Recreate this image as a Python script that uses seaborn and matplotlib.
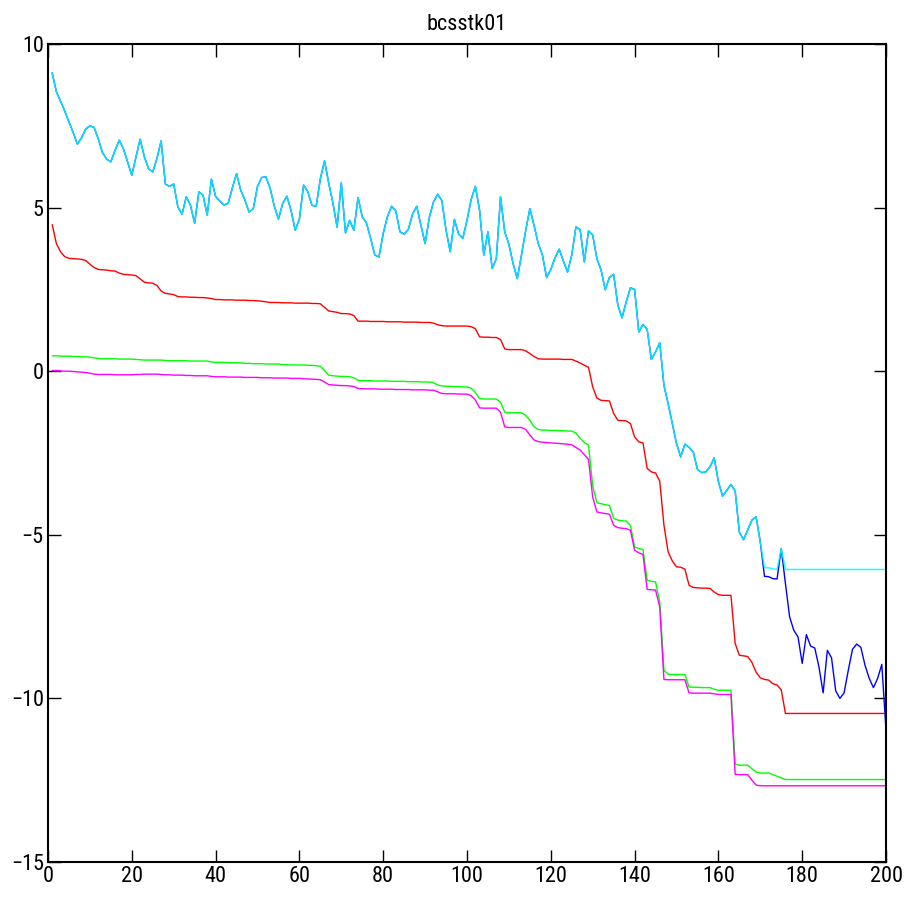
import matplotlib
matplotlib.use("Agg")
import matplotlib.pyplot as plt
from matplotlib import font_manager
from matplotlib.font_manager import FontProperties
import seaborn as sns
import pandas as pd

# ---------------- data ----------------
title = "bcsstk01"
x_values = list(range(1, 201))

# cyan and blue coincide for x = 1..170
shared_head = [
    9.12, 8.54, 8.25, 7.95, 7.62, 7.30, 6.94, 7.13, 7.40, 7.50,
    7.45, 7.10, 6.68, 6.48, 6.40, 6.75, 7.06, 6.80, 6.40, 5.99,
    6.55, 7.09, 6.55, 6.19, 6.09, 6.50, 7.04, 5.72, 5.65, 5.72,
    5.02, 4.80, 5.33, 5.07, 4.52, 5.48, 5.38, 4.77, 5.87, 5.34,
    5.20, 5.08, 5.13, 5.60, 6.04, 5.53, 5.23, 4.86, 4.97, 5.65,
    5.92, 5.94, 5.60, 5.05, 4.65, 5.12, 5.35, 4.92, 4.31, 4.65,
    5.69, 5.49, 5.07, 5.04, 5.88, 6.43, 5.75, 5.14, 4.40, 5.76,
    4.23, 4.61, 4.31, 5.31, 4.72, 4.53, 4.06, 3.55, 3.49, 4.21,
    4.72, 5.04, 4.90, 4.26, 4.19, 4.33, 4.80, 5.04, 4.46, 3.90,
    4.69, 5.17, 5.41, 5.21, 4.31, 3.65, 4.64, 4.19, 4.06, 4.61,
    5.25, 5.65, 4.92, 3.55, 4.26, 3.14, 3.44, 5.33, 4.26, 3.88,
    3.29, 2.83, 3.55, 4.29, 4.97, 4.46, 3.90, 3.55, 2.86, 3.11,
    3.46, 3.73, 3.37, 3.03, 3.55, 4.41, 4.33, 3.34, 4.29, 4.16,
    3.44, 3.09, 2.49, 2.87, 2.96, 2.02, 1.63, 2.12, 2.55, 2.50,
    1.20, 1.43, 1.28, 0.36, 0.59, 0.87, -0.43, -0.99, -1.60, -2.21,
    -2.62, -2.23, -2.33, -2.47, -3.00, -3.10, -3.08, -2.92, -2.65, -3.38,
    -3.82, -3.64, -3.46, -3.66, -4.92, -5.15, -4.85, -4.55, -4.45, -5.22,
]
cyan_tail = [
    -6.00, -6.01, -6.04, -6.06, -5.42, -6.06, -6.06, -6.06, -6.06, -6.06,
    -6.06, -6.06, -6.06, -6.06, -6.06, -6.06, -6.06, -6.06, -6.06, -6.06,
    -6.06, -6.06, -6.06, -6.06, -6.06, -6.06, -6.06, -6.06, -6.06, -6.06,
]
blue_tail = [
    -6.27, -6.28, -6.34, -6.35, -5.42, -6.49, -7.51, -7.92, -8.12, -8.93,
    -8.05, -8.40, -8.46, -9.04, -9.83, -8.53, -8.76, -9.77, -10.00, -9.83,
    -9.14, -8.50, -8.34, -8.44, -8.99, -9.39, -9.67, -9.39, -8.96, -10.97,
]
red_values = [
    4.48, 3.90, 3.65, 3.50, 3.45, 3.44, 3.43, 3.42, 3.38, 3.27,
    3.17, 3.11, 3.10, 3.09, 3.07, 3.06, 3.00, 2.96, 2.95, 2.94,
    2.92, 2.82, 2.72, 2.70, 2.69, 2.62, 2.45, 2.38, 2.36, 2.34,
    2.28, 2.27, 2.27, 2.26, 2.26, 2.25, 2.25, 2.24, 2.22, 2.19,
    2.19, 2.18, 2.18, 2.18, 2.17, 2.17, 2.17, 2.16, 2.16, 2.15,
    2.14, 2.12, 2.10, 2.10, 2.10, 2.09, 2.09, 2.09, 2.08, 2.08,
    2.08, 2.08, 2.07, 2.07, 2.06, 1.95, 1.84, 1.82, 1.80, 1.76,
    1.76, 1.75, 1.70, 1.53, 1.53, 1.53, 1.52, 1.52, 1.52, 1.52,
    1.51, 1.51, 1.51, 1.51, 1.50, 1.50, 1.50, 1.50, 1.49, 1.49,
    1.49, 1.47, 1.42, 1.39, 1.38, 1.38, 1.38, 1.38, 1.38, 1.38,
    1.36, 1.30, 1.05, 1.04, 1.04, 1.03, 1.03, 0.97, 0.68, 0.66,
    0.66, 0.66, 0.66, 0.62, 0.54, 0.45, 0.38, 0.37, 0.37, 0.37,
    0.37, 0.37, 0.36, 0.36, 0.36, 0.31, 0.25, 0.18, 0.12, -0.48,
    -0.82, -0.89, -0.90, -0.91, -1.29, -1.50, -1.51, -1.52, -1.60, -2.01,
    -2.16, -2.19, -2.97, -3.08, -3.11, -3.36, -4.70, -5.52, -5.80, -5.98,
    -5.99, -6.05, -6.54, -6.61, -6.62, -6.63, -6.63, -6.64, -6.75, -6.83,
    -6.85, -6.85, -6.85, -8.32, -8.68, -8.70, -8.72, -8.90, -9.20, -9.37,
    -9.42, -9.44, -9.55, -9.59, -9.74, -10.46, -10.46, -10.46, -10.46, -10.46,
    -10.46, -10.46, -10.46, -10.46, -10.46, -10.46, -10.46, -10.46, -10.46, -10.46,
    -10.46, -10.46, -10.46, -10.46, -10.46, -10.46, -10.46, -10.46, -10.46, -10.46,
]
green_values = [
    0.47, 0.47, 0.46, 0.46, 0.46, 0.45, 0.45, 0.44, 0.44, 0.43,
    0.41, 0.39, 0.38, 0.38, 0.38, 0.38, 0.37, 0.37, 0.37, 0.37,
    0.36, 0.35, 0.34, 0.34, 0.34, 0.34, 0.34, 0.33, 0.32, 0.32,
    0.32, 0.32, 0.32, 0.31, 0.31, 0.31, 0.31, 0.31, 0.28, 0.27,
    0.27, 0.27, 0.26, 0.26, 0.26, 0.25, 0.24, 0.24, 0.23, 0.23,
    0.23, 0.22, 0.22, 0.22, 0.22, 0.20, 0.20, 0.19, 0.19, 0.19,
    0.19, 0.18, 0.18, 0.17, 0.15, 0.02, -0.12, -0.14, -0.15, -0.16,
    -0.16, -0.17, -0.20, -0.28, -0.29, -0.29, -0.29, -0.30, -0.30, -0.30,
    -0.30, -0.31, -0.31, -0.31, -0.31, -0.32, -0.32, -0.32, -0.33, -0.33,
    -0.33, -0.35, -0.42, -0.45, -0.46, -0.46, -0.47, -0.47, -0.48, -0.48,
    -0.52, -0.65, -0.84, -0.85, -0.85, -0.85, -0.85, -0.95, -1.25, -1.27,
    -1.27, -1.27, -1.27, -1.35, -1.50, -1.70, -1.78, -1.80, -1.80, -1.81,
    -1.81, -1.82, -1.82, -1.83, -1.83, -1.89, -2.05, -2.18, -2.26, -3.50,
    -4.02, -4.05, -4.08, -4.10, -4.50, -4.55, -4.57, -4.58, -4.71, -5.37,
    -5.42, -5.45, -6.39, -6.42, -6.44, -7.05, -9.14, -9.26, -9.27, -9.27,
    -9.27, -9.27, -9.65, -9.66, -9.66, -9.67, -9.67, -9.67, -9.72, -9.75,
    -9.75, -9.75, -9.75, -12.01, -12.04, -12.04, -12.04, -12.15, -12.25, -12.28,
    -12.28, -12.28, -12.33, -12.38, -12.43, -12.48, -12.48, -12.48, -12.48, -12.48,
    -12.48, -12.48, -12.48, -12.48, -12.48, -12.48, -12.48, -12.48, -12.48, -12.48,
    -12.48, -12.48, -12.48, -12.48, -12.48, -12.48, -12.48, -12.48, -12.48, -12.48,
]
magenta_values = [
    0.02, 0.02, 0.01, 0.00, 0.00, -0.01, -0.02, -0.03, -0.04, -0.06,
    -0.09, -0.10, -0.10, -0.10, -0.10, -0.11, -0.11, -0.11, -0.11, -0.11,
    -0.10, -0.10, -0.09, -0.09, -0.09, -0.09, -0.10, -0.11, -0.11, -0.12,
    -0.12, -0.12, -0.13, -0.13, -0.14, -0.14, -0.14, -0.14, -0.16, -0.17,
    -0.17, -0.17, -0.18, -0.18, -0.18, -0.18, -0.19, -0.19, -0.19, -0.19,
    -0.20, -0.20, -0.20, -0.21, -0.21, -0.21, -0.21, -0.22, -0.22, -0.22,
    -0.23, -0.24, -0.24, -0.25, -0.26, -0.33, -0.41, -0.42, -0.43, -0.44,
    -0.44, -0.45, -0.47, -0.53, -0.53, -0.54, -0.54, -0.54, -0.55, -0.55,
    -0.55, -0.55, -0.56, -0.56, -0.56, -0.56, -0.57, -0.57, -0.57, -0.57,
    -0.58, -0.58, -0.63, -0.68, -0.69, -0.69, -0.69, -0.70, -0.70, -0.70,
    -0.75, -0.88, -1.12, -1.13, -1.13, -1.13, -1.13, -1.25, -1.70, -1.72,
    -1.72, -1.72, -1.72, -1.78, -1.95, -2.10, -2.15, -2.17, -2.18, -2.19,
    -2.20, -2.21, -2.22, -2.23, -2.25, -2.33, -2.41, -2.55, -2.70, -3.85,
    -4.30, -4.33, -4.35, -4.37, -4.71, -4.78, -4.80, -4.81, -4.86, -5.47,
    -5.55, -5.60, -6.67, -6.68, -6.69, -7.20, -9.42, -9.43, -9.43, -9.43,
    -9.43, -9.43, -9.83, -9.84, -9.84, -9.84, -9.84, -9.84, -9.86, -9.88,
    -9.88, -9.88, -9.88, -12.32, -12.33, -12.33, -12.33, -12.50, -12.65, -12.67,
    -12.67, -12.67, -12.67, -12.67, -12.67, -12.67, -12.67, -12.67, -12.67, -12.67,
    -12.67, -12.67, -12.67, -12.67, -12.67, -12.67, -12.67, -12.67, -12.67, -12.67,
    -12.67, -12.67, -12.67, -12.67, -12.67, -12.67, -12.67, -12.67, -12.67, -12.67,
]
x_ticks = [0, 20, 40, 60, 80, 100, 120, 140, 160, 180, 200]
y_ticks = [-15, -10, -5, 0, 5, 10]

blue_values = shared_head + blue_tail
cyan_values = shared_head + cyan_tail

# ---------------- style ----------------
sns.set_theme(style="white")
plt.rcParams["font.family"] = ["Liberation Sans", "DejaVu Sans"]


def pick_condensed_font():
    """Find a narrow/condensed regular sans font file if one is installed."""
    entries = font_manager.fontManager.ttflist
    prefs = [
        ("Liberation Sans Narrow", None),
        ("Arial Narrow", None),
        ("Roboto Condensed", None),
        ("Open Sans Condensed", None),
        ("Noto Sans", "condensed"),
        ("Noto Sans", "semi-condensed"),
        ("Open Sans", "condensed"),
        ("Open Sans", "semi-condensed"),
        ("Roboto", "condensed"),
        ("DejaVu Sans", "condensed"),
        ("DejaVu Sans Condensed", None),
    ]
    for name, stretch in prefs:
        for f in entries:
            if f.name != name or f.style != "normal":
                continue
            if f.weight not in (400, "normal", "regular", "book"):
                continue
            if stretch is not None and str(f.stretch) != stretch:
                continue
            return f.fname, name
    return None, None


fname, fname_name = pick_condensed_font()
if fname:
    tick_fp = FontProperties(fname=fname, size=16)
    title_fp = FontProperties(fname=fname, size=16)
else:
    tick_fp = FontProperties(family="Liberation Sans", size=14)
    title_fp = FontProperties(family="Liberation Sans", size=14)

fig = plt.figure(figsize=(9.05, 8.97), dpi=100)
ax = fig.add_axes([48 / 905, 1 - 862 / 897, (886 - 48) / 905, (862 - 44) / 897])

series = [
    (blue_values, "#0000FF", 1.0, 1.0),
    (cyan_values, "#00FFFF", 1.1, 0.88),
    (red_values, "#FF0000", 1.0, 1.0),
    (green_values, "#00FF00", 1.0, 1.0),
    (magenta_values, "#FF00FF", 1.0, 1.0),
]
for vals, col, lw, a in series:
    df = pd.DataFrame({"x": x_values, "y": vals})
    sns.lineplot(data=df, x="x", y="y", color=col, linewidth=lw, alpha=a,
                 estimator=None, ax=ax, legend=False)

ax.set_xlim(0, 200)
ax.set_ylim(-15, 10)
ax.set_xticks(x_ticks)
ax.set_yticks(y_ticks)
ax.set_xticklabels([str(t) for t in x_ticks])
ax.set_yticklabels([str(t).replace("-", "\u2212") for t in y_ticks])
for lab in ax.get_xticklabels() + ax.get_yticklabels():
    lab.set_fontproperties(tick_fp)
ax.set_xlabel("")
ax.set_ylabel("")
ax.tick_params(direction="in", length=9, width=1, colors="black",
               top=True, right=True, bottom=True, left=True, pad=3)
for s in ax.spines.values():
    s.set_visible(True)
    s.set_color("black")
    s.set_linewidth(1.5)
ax.set_title(title, fontproperties=title_fp, color="black", pad=10)
ax.grid(False)

fig.savefig("out.png", dpi=100, facecolor="white")
